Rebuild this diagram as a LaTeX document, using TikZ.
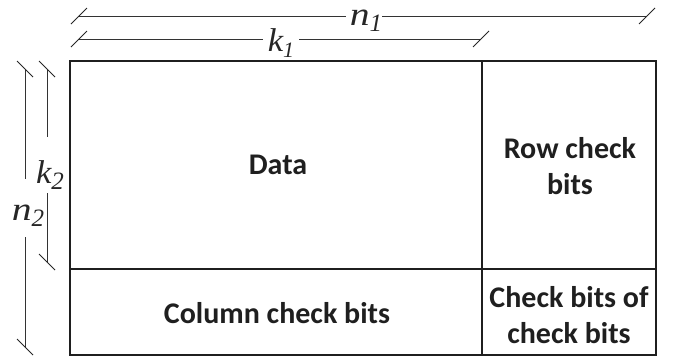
\documentclass[tikz,border=0pt]{standalone}
\usepackage{fontspec}
\setmainfont{Liberation Serif}
\setsansfont{Carlito}
\begin{document}
\begin{tikzpicture}[x=1pt,y=-1pt,
  boxline/.style={line width=2pt,draw=black!88},
  dimline/.style={line width=1pt,draw=black!80},
  tick/.style={line width=1pt,draw=black!85},
  body/.style={font=\sffamily\bfseries\fontsize{30}{36}\selectfont,align=center,text=black!88},
  dimlab/.style={inner sep=0pt,font=\fontsize{33}{33}\selectfont\itshape,text=black!85}]
\useasboundingbox (0,0) rectangle (677,357);
% table
\coordinate (TL) at (70,61);
\coordinate (BR) at (656,355);
\draw[boxline] (TL) rectangle (BR);
\coordinate (vT) at (482,61);
\coordinate (vB) at (482,355);
\coordinate (hL) at (70,269);
\coordinate (hR) at (656,269);
\draw[boxline] (vT) -- (vB);
\draw[boxline] (hL) -- (hR);
\node[body] (data) at (278,165) {Data};
\node[body] (row) at (570,166) {Row check\\bits};
\node[body] (col) at (277,313) {Column check bits};
\node[body] (cc) at (569,315) {Check bits of\\check bits};
% n1
\coordinate (n1L) at (79,16);
\coordinate (n1R) at (647,16);
\node[dimlab] (n1) at (366,21) {\scalebox{1.2}[1]{n}\raisebox{-6pt}{\fontsize{25}{25}\selectfont 1}};
\draw[dimline] (n1L) -- ([xshift=-4pt]n1.west|-n1L);
\draw[dimline] (n1.east|-n1R) -- (n1R);
\draw[tick] ([shift={(-8,8)}]n1L) -- ([shift={(8,-8)}]n1L);
\draw[tick] ([shift={(-8,8)}]n1R) -- ([shift={(8,-8)}]n1R);
% k1
\coordinate (k1L) at (79,39);
\coordinate (k1R) at (481,39);
\node[dimlab] (k1) at (281,43) {\scalebox{1.05}[1]{k}\raisebox{-6pt}{\fontsize{22}{22}\selectfont 1}};
\draw[dimline] (k1L) -- ([xshift=-5pt]k1.west|-k1L);
\draw[dimline] ([xshift=5pt]k1.east|-k1R) -- (k1R);
\draw[tick] ([shift={(-8,8)}]k1L) -- ([shift={(8,-8)}]k1L);
\draw[tick] ([shift={(-8,8)}]k1R) -- ([shift={(8,-8)}]k1R);
% n2
\coordinate (n2T) at (25,69);
\coordinate (n2B) at (25,347);
\node[dimlab] (n2) at (28,216) {\scalebox{1.2}[1]{n}\raisebox{-6pt}{\fontsize{25}{25}\selectfont 2}};
\draw[dimline] (n2T) -- (n2T|-0,179);
\draw[dimline] (n2B|-0,237) -- (n2B);
\draw[tick] ([shift={(-8,-8)}]n2T) -- ([shift={(8,8)}]n2T);
\draw[tick] ([shift={(-8,-8)}]n2B) -- ([shift={(8,8)}]n2B);
% k2
\coordinate (k2T) at (47,69);
\coordinate (k2B) at (47,262);
\node[dimlab] (k2) at (50,175) {\scalebox{1.05}[1]{k}\raisebox{-6pt}{\fontsize{25}{25}\selectfont 2}};
\draw[dimline] (k2T) -- (k2T|-0,137);
\draw[dimline] (k2B|-0,193) -- (k2B);
\draw[tick] ([shift={(-8,-8)}]k2T) -- ([shift={(8,8)}]k2T);
\draw[tick] ([shift={(-8,-8)}]k2B) -- ([shift={(8,8)}]k2B);
\end{tikzpicture}
\end{document}
